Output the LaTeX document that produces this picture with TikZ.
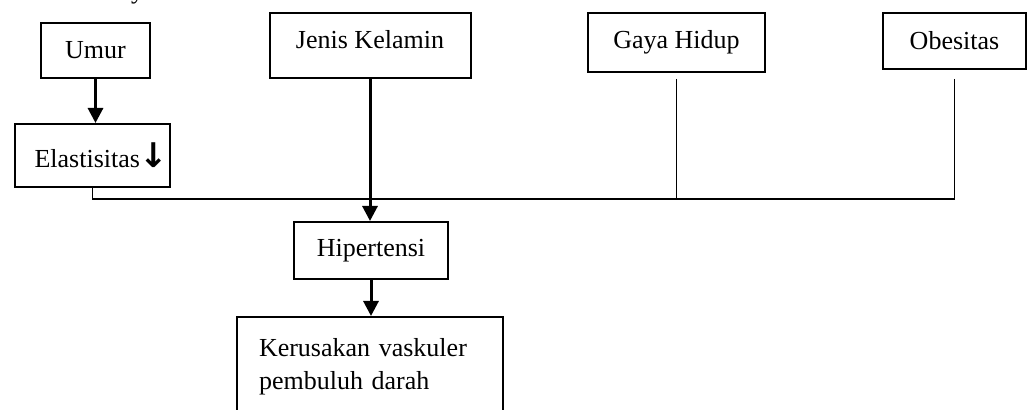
\documentclass[tikz,border=0pt]{standalone}
\usepackage{fontspec}
\setmainfont{Liberation Serif}
\newfontfamily\arrowfont{DejaVu Sans}
\usetikzlibrary{arrows.meta}

\begin{document}
\begin{tikzpicture}[x=0.5pt, y=-0.5pt,
-{Triangle[width=7.5pt,length=7.5pt]},
line width=1.5pt,
boxx/.style={rectangle, draw=black, line width=1pt, text centered, font=\fontsize{13}{16.5}\selectfont},
linee/.style={-, line width=0.8pt},
]
  \useasboundingbox (0,0) rectangle (1032,410);
  \node (ytail) [anchor=base, inner sep=0pt, font=\fontsize{13}{16.5}\selectfont] at (137.5,-1) {y};

  \node (umur) [boxx, minimum width=54.5pt, minimum height=27.5pt] at (95.5,50.5) {Umur};
  \node (elast) [boxx, minimum width=77.5pt, minimum height=31.5pt, inner xsep=1pt] at (92.5,155.5) {\hspace{9pt}Elastisitas{\arrowfont\bfseries\fontsize{17}{18}\selectfont ↓}};
  \node (jenis) [boxx, minimum width=100.5pt, minimum height=32.5pt, text depth=6pt] at (370,45.5) {Jenis Kelamin};
  \node (gaya) [boxx, minimum width=88.5pt, minimum height=29.5pt] at (676.5,42.5) {Gaya Hidup};
  \node (obes) [boxx, minimum width=71.5pt, minimum height=28pt] at (954.5,41) {Obesitas};
  \node (hiper) [boxx, minimum width=77pt, minimum height=28.5pt] at (371,250.5) {Hipertensi};
  \node (kerus) [boxx, anchor=north, minimum width=133pt, minimum height=60pt, text width=111pt, align=left, inner xsep=11pt, inner ysep=10pt, text depth=30pt] at (370,316) {Kerusakan vaskuler\\pembuluh darah};

  \coordinate (bus) at (0,199);

  \path (umur) edge (umur.south |- elast.north)
        (jenis) edge (jenis.south |- hiper.north)
        (hiper) edge (hiper.south |- kerus.north);

  \draw[linee] (elast.south) |- (obes.south |- bus);
  \draw[linee, line width=0.65pt] ([yshift=-3pt]gaya.south) -- (gaya.south |- bus);
  \draw[linee, line width=0.65pt] ([yshift=-4.5pt]obes.south) -- (obes.south |- bus);
\end{tikzpicture}
\end{document}
